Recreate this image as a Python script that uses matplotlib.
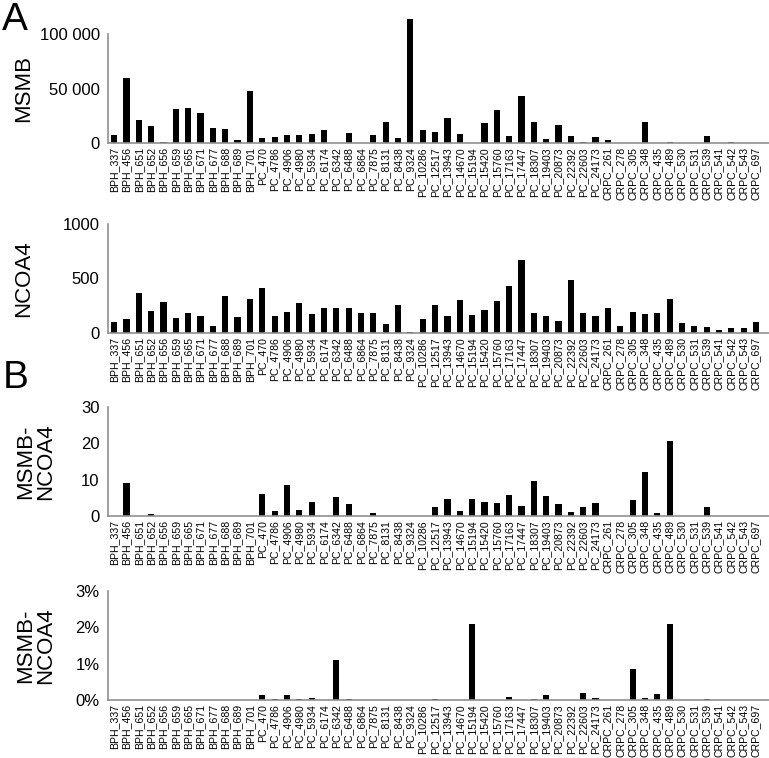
import matplotlib
matplotlib.use('Agg')
import matplotlib.pyplot as plt
from matplotlib.ticker import FuncFormatter

plt.rcParams['font.family'] = ['Liberation Sans', 'DejaVu Sans']

samples = ['BPH_337', 'BPH_456', 'BPH_651', 'BPH_652', 'BPH_656', 'BPH_659', 'BPH_665',
           'BPH_671', 'BPH_677', 'BPH_688', 'BPH_689', 'BPH_701',
           'PC_470', 'PC_4786', 'PC_4906', 'PC_4980', 'PC_5934', 'PC_6174', 'PC_6342',
           'PC_6488', 'PC_6864', 'PC_7875', 'PC_8131', 'PC_8438', 'PC_9324', 'PC_10286',
           'PC_12517', 'PC_13943', 'PC_14670', 'PC_15194', 'PC_15420', 'PC_15760',
           'PC_17163', 'PC_17447', 'PC_18307', 'PC_19403', 'PC_20873', 'PC_22392',
           'PC_22603', 'PC_24173',
           'CRPC_261', 'CRPC_278', 'CRPC_305', 'CRPC_348', 'CRPC_435', 'CRPC_489',
           'CRPC_530', 'CRPC_531', 'CRPC_539', 'CRPC_541', 'CRPC_542', 'CRPC_543', 'CRPC_697']

msmb = [7300, 60000, 21300, 15200, 1200, 31100, 32000, 28000, 13700, 12800, 3000, 47900,
        4300, 5800, 7000, 7600, 8500, 11900, 300, 8800, 300, 7600, 19500, 4600, 114000, 11600,
        10400, 23200, 8500, 0, 18300, 30200, 6100, 43000, 19200, 4000, 16800, 6100,
        1200, 5200,
        3000, 0, 300, 19500, 300, 1000, 0, 0, 6700, 0, 900, 0, 0]

ncoa4 = [100, 131, 363, 201, 284, 134, 186, 152, 61, 335, 143, 308,
         415, 152, 195, 278, 174, 226, 232, 226, 180, 180, 85, 253, 9, 128,
         259, 156, 302, 165, 210, 296, 427, 668, 180, 152, 110, 488,
         183, 159,
         226, 67, 192, 177, 183, 311, 88, 67, 58, 27, 43, 43, 104]

fusion_counts = [0, 9.0, 0, 0.6, 0, 0, 0, 0, 0, 0, 0, 0,
                 6.1, 1.5, 8.4, 1.7, 3.9, 0, 5.2, 3.2, 0, 0.8, 0, 0, 0, 0,
                 2.4, 4.7, 1.5, 4.7, 3.8, 3.7, 5.7, 2.7, 9.7, 5.6, 3.4, 1.2,
                 2.4, 3.7,
                 0, 0, 4.5, 12.2, 0.9, 20.6, 0, 0, 2.6, 0, 0, 0, 0]

fusion_pct = [0, 0.005, 0, 0, 0, 0, 0, 0, 0, 0, 0, 0,
              0.14, 0.03, 0.13, 0.03, 0.05, 0, 1.11, 0.04, 0, 0.01, 0, 0, 0, 0,
              0.02, 0.01, 0.01, 2.1, 0.01, 0, 0.08, 0, 0.04, 0.13, 0.01, 0.01,
              0.2, 0.06,
              0, 0, 0.86, 0.05, 0.16, 2.1, 0, 0, 0.03, 0, 0, 0, 0]

panels = [
    (msmb, 'MSMB', [0, 50000, 100000], lambda v, p: '{:,.0f}'.format(v).replace(',', ' ')),
    (ncoa4, 'NCOA4', [0, 500, 1000], lambda v, p: '{:.0f}'.format(v)),
    (fusion_counts, 'MSMB-\nNCOA4', [0, 10, 20, 30], lambda v, p: '{:.0f}'.format(v)),
    (fusion_pct, 'MSMB-\nNCOA4', [0, 1, 2, 3], lambda v, p: '{:.0f}%'.format(v)),
]

fig = plt.figure(figsize=(7.69, 7.58), dpi=100)
bottoms = [0.8113, 0.5607, 0.3193, 0.0765]
h = 0.1438
x = list(range(len(samples)))

for (vals, label, ticks, fmt), b in zip(panels, bottoms):
    ax = fig.add_axes([0.1404, b, 0.8596, h])
    ax.bar(x, vals, width=0.5, color='black', clip_on=False)
    ax.set_xlim(-0.5, 53.05)
    ax.set_ylim(ticks[0], ticks[-1])
    ax.set_yticks(ticks)
    ax.yaxis.set_major_formatter(FuncFormatter(fmt))
    ax.set_xticks(x)
    ax.set_xticklabels(samples, rotation=90, fontsize=7.6)
    ax.tick_params(axis='y', length=0, pad=6, labelsize=12)
    ax.tick_params(axis='x', length=0, pad=3)
    for s in ['top', 'right']:
        ax.spines[s].set_visible(False)
    for s in ['left', 'bottom']:
        ax.spines[s].set_color('#909090')
        ax.spines[s].set_linewidth(1.2)
    # y label as figure text so the two-line ones are not cut
    xc = 0.031 if '\n' not in label else 0.046
    fig.text(xc, b + h / 2, label, fontsize=16, rotation=90, ha='center', va='center',
             linespacing=0.95, multialignment='center')

fig.text(0.003, 0.998, 'A', fontsize=28, va='top', ha='left')
fig.text(0.003, 0.525, 'B', fontsize=28, va='top', ha='left')

fig.savefig('out.png', dpi=100)
